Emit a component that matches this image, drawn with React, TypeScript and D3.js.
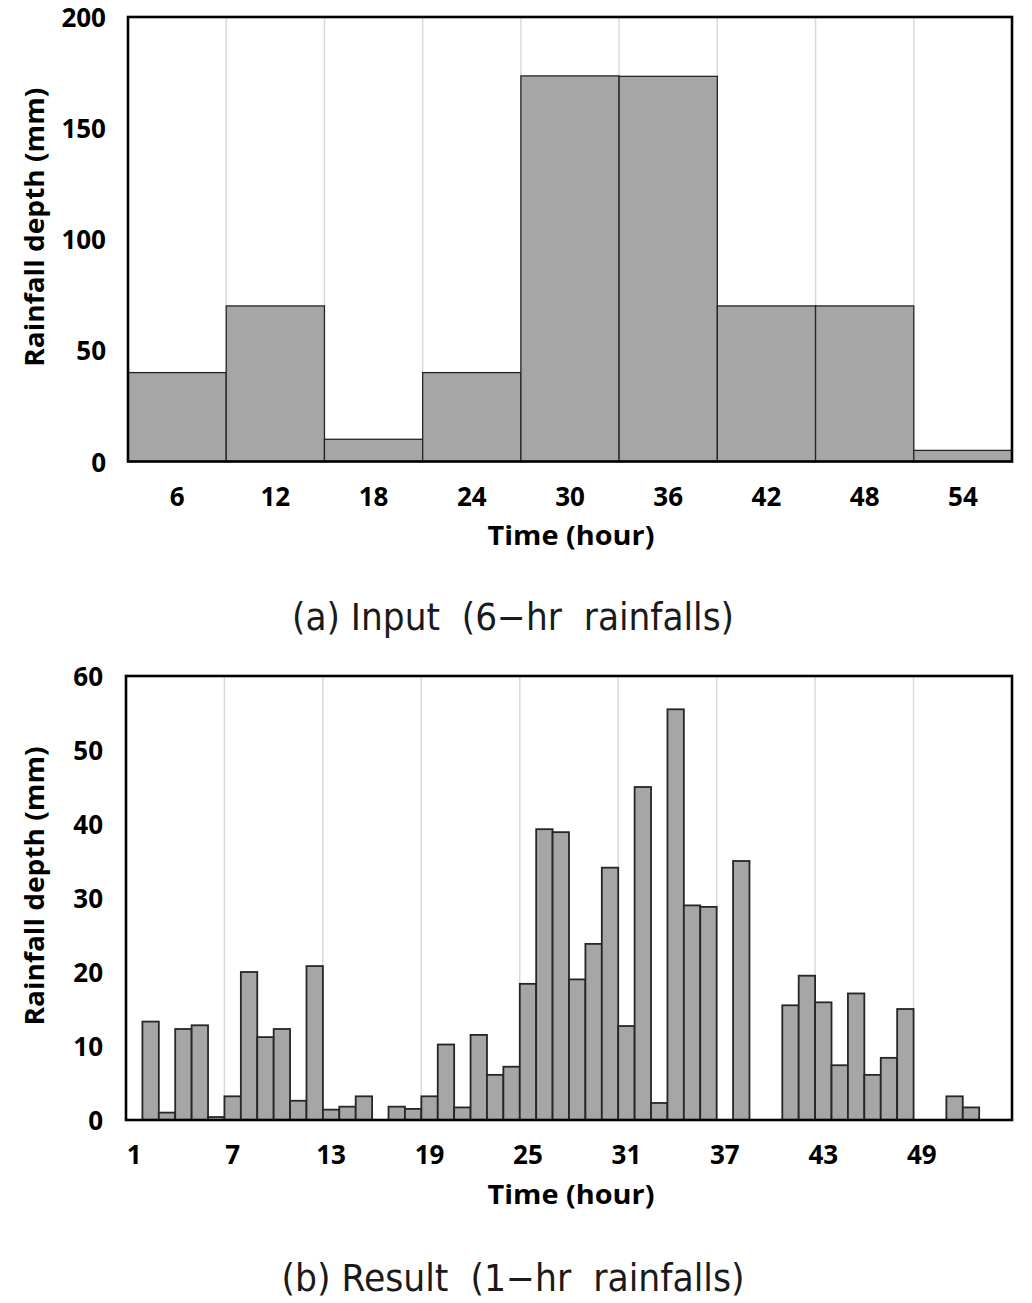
import * as d3 from "d3";

// 6-hour input totals (mm)
const sixHourLabels = ["6", "12", "18", "24", "30", "36", "42", "48", "54"];
const sixHourRain = [40, 70, 10, 40, 173.5, 173.3, 70, 70, 5];
const sixHourYTicks = [0, 50, 100, 150, 200];

// disaggregated 1-hour rainfall (mm), hours 1..54
const hourLabels = d3.range(1, 55).map(String);
const hourlyRain = [
  0, 13.3, 1.0, 12.3, 12.8, 0.4,
  3.2, 20.0, 11.2, 12.3, 2.6, 20.8,
  1.4, 1.8, 3.2, 0, 1.8, 1.5,
  3.2, 10.2, 1.7, 11.5, 6.1, 7.2,
  18.4, 39.3, 38.9, 19.0, 23.8, 34.1,
  12.7, 45.0, 2.3, 55.5, 29.0, 28.8,
  0, 35.0, 0, 0, 15.5, 19.5,
  15.9, 7.4, 17.1, 6.1, 8.4, 15.0,
  0, 0, 3.2, 1.7, 0, 0,
];
const hourTickLabels = ["1", "7", "13", "19", "25", "31", "37", "43", "49"];
const hourlyYTicks = [0, 10, 20, 30, 40, 50, 60];

const axisFont = "'Open Sans', 'Noto Sans', 'DejaVu Sans', sans-serif";
const captionFont = "'Liberation Sans Narrow', 'DejaVu Sans Condensed', 'Noto Sans', sans-serif";

type PanelProps = {
  labels: string[];
  values: number[];
  tickLabels: string[];
  yTicks: number[];
  left: number;
  right: number;
  top: number;
  bottom: number;
  yTickX: number;
  barStroke: number;
  caption: string;
  captionY: number;
  captionWidth: number;
};

function Panel(props: PanelProps) {
  const { labels, values, tickLabels, yTicks, left, right, top, bottom, yTickX } = props;
  const x = d3.scaleBand<string>().domain(labels).range([left, right]).padding(0);
  const y = d3.scaleLinear().domain([0, d3.max(yTicks) ?? 1]).range([bottom, top]);
  const bw = x.bandwidth();
  // vertical gridlines sit on the left edge of every labelled category after the first
  const gridAt = tickLabels.slice(1).map((t) => x(t) ?? 0);
  const midY = (top + bottom) / 2;
  const midX = 571;

  return (
    <g>
      {gridAt.map((gx, i) => (
        <line key={i} x1={gx} x2={gx} y1={top} y2={bottom} stroke="#d9d9d9" strokeWidth={1.5} />
      ))}
      {values.map((v, i) => (
        <rect
          key={i}
          x={x(labels[i]) ?? 0}
          y={y(v)}
          width={bw}
          height={Math.max(0, y(0) - y(v))}
          fill="#a6a6a6"
          stroke="#262626"
          strokeWidth={props.barStroke}
        />
      ))}
      <rect
        x={left}
        y={top}
        width={right - left}
        height={bottom - top}
        fill="none"
        stroke="#000"
        strokeWidth={2.6}
      />
      {yTicks.map((t) => (
        <text
          key={t}
          x={yTickX}
          y={y(t)}
          textAnchor="end"
          dominantBaseline="central"
          fontFamily={axisFont}
          fontWeight={700}
          fontSize={26}
          fill="#000"
        >
          {t}
        </text>
      ))}
      {tickLabels.map((t) => (
        <text
          key={t}
          x={(x(t) ?? 0) + bw / 2}
          y={bottom + 34}
          textAnchor="middle"
          dominantBaseline="central"
          fontFamily={axisFont}
          fontWeight={700}
          fontSize={26}
          fill="#000"
        >
          {t}
        </text>
      ))}
      <text
        x={midX}
        y={bottom + 73}
        textAnchor="middle"
        dominantBaseline="central"
        fontFamily={axisFont}
        fontWeight={700}
        fontSize={27}
        textLength={167}
        lengthAdjust="spacingAndGlyphs"
        fill="#000"
      >
        Time (hour)
      </text>
      <text
        transform={`translate(33,${midY - 12}) rotate(-90)`}
        textAnchor="middle"
        dominantBaseline="central"
        fontFamily={axisFont}
        fontWeight={700}
        fontSize={27}
        textLength={279}
        lengthAdjust="spacingAndGlyphs"
        fill="#000"
      >
        Rainfall depth (mm)
      </text>
      <text
        x={513}
        y={props.captionY}
        textAnchor="middle"
        dominantBaseline="central"
        fontFamily={captionFont}
        fontWeight={400}
        fontSize={37}
        textLength={props.captionWidth}
        lengthAdjust="spacingAndGlyphs"
        style={{ whiteSpace: "pre" }}
        fill="#1a1a1a"
      >
        {props.caption}
      </text>
    </g>
  );
}

export default function App() {
  return (
    <svg
      width={1032}
      height={1303}
      style={{ position: "absolute", left: 0, top: 0, background: "#fff" }}
    >
      <Panel
        labels={sixHourLabels}
        values={sixHourRain}
        tickLabels={sixHourLabels}
        yTicks={sixHourYTicks}
        left={128}
        right={1012}
        top={17}
        bottom={461.5}
        yTickX={106}
        barStroke={1.3}
        caption={"(a) Input  (6\u2212hr  rainfalls)"}
        captionY={617}
        captionWidth={442}
      />
      <Panel
        labels={hourLabels}
        values={hourlyRain}
        tickLabels={hourTickLabels}
        yTicks={hourlyYTicks}
        left={126}
        right={1012}
        top={676}
        bottom={1120}
        yTickX={103}
        barStroke={1.8}
        caption={"(b) Result  (1\u2212hr  rainfalls)"}
        captionY={1278}
        captionWidth={463}
      />
    </svg>
  );
}
